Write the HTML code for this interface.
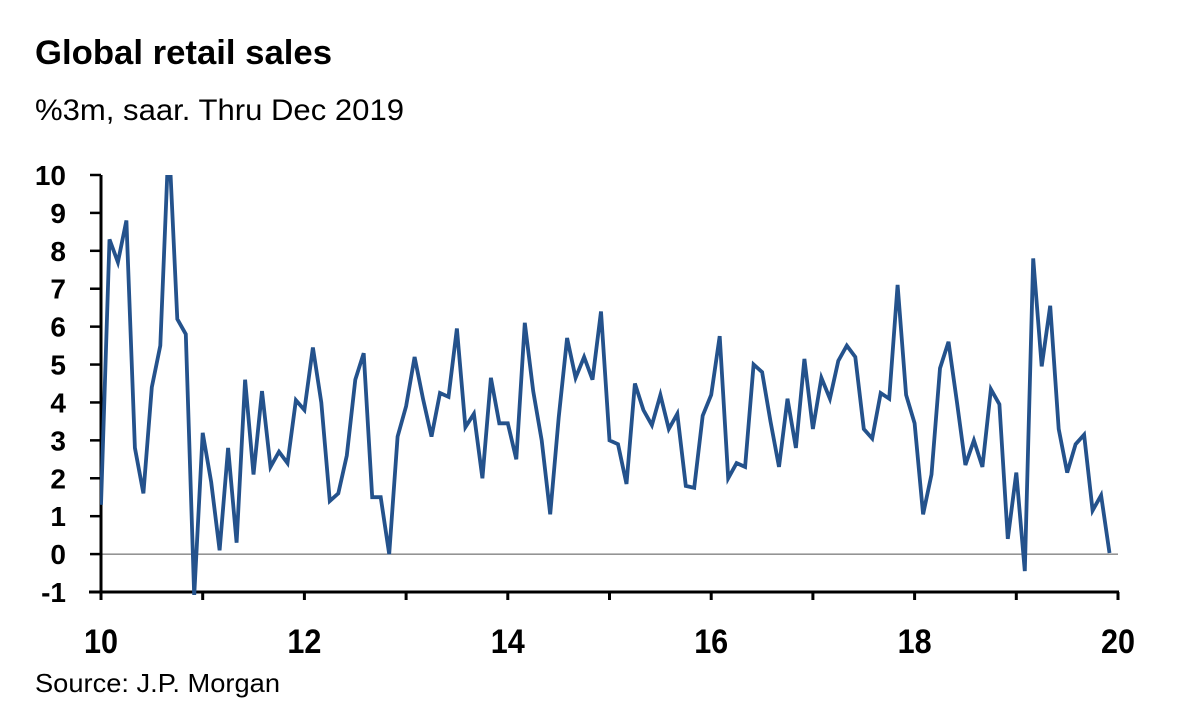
<!DOCTYPE html>
<html><head><meta charset="utf-8"><style>
body{margin:0;background:#fff;}
svg{display:block;font-family:"Liberation Sans",Arial,sans-serif;}
</style></head><body>
<svg id="chart" width="1200" height="718" viewBox="0 0 1200 718">
<text x="35" y="64" font-size="34" font-weight="bold" fill="#000" textLength="297" lengthAdjust="spacingAndGlyphs">Global retail sales</text>
<text x="35" y="120" font-size="30" fill="#000" textLength="369" lengthAdjust="spacingAndGlyphs">%3m, saar. Thru Dec 2019</text>
<text x="35" y="692" font-size="26" fill="#000" textLength="245" lengthAdjust="spacingAndGlyphs">Source: J.P. Morgan</text>
<defs><clipPath id="plotclip"><rect x="100" y="175" width="1020" height="420"/></clipPath></defs>
<g id="axes"></g>
<g id="series" clip-path="url(#plotclip)"></g>
</svg>
<script>
const yTicks=[10,9,8,7,6,5,4,3,2,1,0,-1];
const xTickLabels=["10","12","14","16","18","20"];
const years=[10,11,12,13,14,15,16,17,18,19,20];
const sales=[
1.3,8.3,7.7,8.8,2.8,1.6,4.4,5.5,11,6.2,5.8,-1.1,
3.2,1.9,0.1,2.8,0.3,4.6,2.1,4.3,2.3,2.7,2.4,4.06,
3.8,5.45,4.0,1.4,1.6,2.6,4.6,5.3,1.5,1.5,0,3.1,
3.9,5.2,4.1,3.1,4.25,4.15,5.95,3.35,3.7,2.0,4.65,3.45,
3.45,2.5,6.1,4.3,3.0,1.05,3.6,5.7,4.65,5.2,4.6,6.4,
3.0,2.9,1.85,4.5,3.8,3.4,4.2,3.3,3.7,1.8,1.75,3.65,
4.2,5.75,2.0,2.4,2.3,5.0,4.8,3.5,2.3,4.1,2.8,5.15,
3.3,4.65,4.1,5.1,5.5,5.2,3.3,3.05,4.25,4.1,7.1,4.2,
3.45,1.05,2.1,4.9,5.6,4.0,2.35,3.0,2.3,4.35,3.95,0.4,
2.15,-0.45,7.8,4.95,6.55,3.3,2.15,2.9,3.15,1.15,1.55,0.03
];
const NS="http://www.w3.org/2000/svg";
const x0=101,x1=1118,y10=175,yM1=592;
function xScale(yr){return x0+(yr-10)/10*(x1-x0);}
function yScale(v){return y10+(10-v)/11*(yM1-y10);}
function mk(tag,attrs,parent){const e=document.createElementNS(NS,tag);for(const k in attrs)e.setAttribute(k,attrs[k]);parent.appendChild(e);return e;}
const axes=document.getElementById('axes');
const series=document.getElementById('series');
yTicks.forEach(v=>{
  const t=mk('text',{x:66,y:yScale(v)+10,'font-size':28,'font-weight':'bold','text-anchor':'end'},axes);
  t.textContent=v;
  
  
  const l=mk('line',{x1:90,x2:101,y1:yScale(v),y2:yScale(v),stroke:'#000','stroke-width':2.5},axes);
  
  
});
const zl=mk('line',{x1:x0,x2:x1,y1:yScale(0),y2:yScale(0),stroke:'#555','stroke-width':1},axes);


const ya=mk('line',{x1:x0,x2:x0,y1:y10,y2:yM1+1,stroke:'#000','stroke-width':3},axes);


const xa=mk('line',{x1:x0-12,x2:x1+1,y1:yM1,y2:yM1,stroke:'#000','stroke-width':3},axes);


years.forEach(y=>{
  const l=mk('line',{x1:xScale(y),x2:xScale(y),y1:yM1,y2:yM1+8,stroke:'#000','stroke-width':3},axes);
  
  
});
xTickLabels.forEach(s=>{
  const t=mk('text',{x:xScale(+s),y:653,'font-size':34,'font-weight':'bold','text-anchor':'middle',textLength:34,lengthAdjust:'spacingAndGlyphs'},axes);
  t.textContent=s;
  
  
});
const pts=sales.map((v,i)=>xScale(10+i/12).toFixed(1)+','+yScale(v).toFixed(1)).join(' ');
const pl=mk('polyline',{points:pts,fill:'none',stroke:'#24528c','stroke-width':3.8,'stroke-linejoin':'miter','stroke-miterlimit':4},series);


</script>
</body></html>
